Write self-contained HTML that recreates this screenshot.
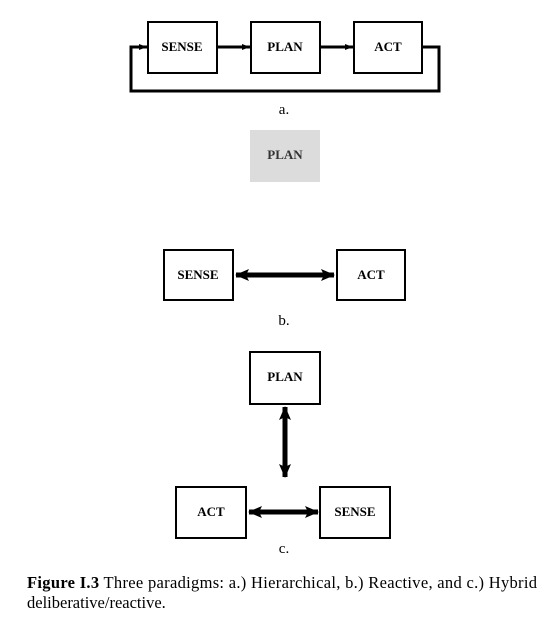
<!DOCTYPE html>
<html><head><style>html,body{margin:0;padding:0;background:#fff;}svg{display:block}</style></head>
<body>
<svg width="551" height="622" viewBox="0 0 551 622" xmlns="http://www.w3.org/2000/svg" font-family="Liberation Serif, serif">
<defs>
<marker id="sa" markerWidth="8" markerHeight="6" refX="8" refY="3" orient="auto" markerUnits="userSpaceOnUse"><path d="M0,0 L8,3 L0,6 z" fill="#000"/></marker>
<marker id="ba" markerWidth="14" markerHeight="12" refX="13" refY="6" orient="auto-start-reverse" markerUnits="userSpaceOnUse"><path d="M0,0 L14,6 L0,12 L3,6 z" fill="#000"/></marker>
</defs>
<g fill="none" stroke="#000" stroke-width="2">
<rect x="148" y="22" width="69" height="51"/>
<rect x="251" y="22" width="69" height="51"/>
<rect x="354" y="22" width="68" height="51"/>
<rect x="164" y="250" width="69" height="50"/>
<rect x="337" y="250" width="68" height="50"/>
<rect x="250" y="352" width="70" height="52"/>
<rect x="176" y="487" width="70" height="51"/>
<rect x="320" y="487" width="70" height="51"/>
</g>
<rect x="250" y="130" width="70" height="52" fill="#dcdcdc"/>
<g stroke="#000" stroke-width="3" fill="none">
<line x1="217" y1="47" x2="250" y2="47" marker-end="url(#sa)"/>
<line x1="320" y1="47" x2="353" y2="47" marker-end="url(#sa)"/>
<polyline points="422,47 439,47 439,91 131,91 131,47 147,47" marker-end="url(#sa)"/>
</g>
<g stroke="#000" stroke-width="5" fill="none">
<line x1="236" y1="275" x2="334" y2="275" marker-start="url(#ba)" marker-end="url(#ba)"/>
<line x1="285" y1="407" x2="285" y2="477" marker-start="url(#ba)" marker-end="url(#ba)"/>
<line x1="249" y1="512" x2="318" y2="512" marker-start="url(#ba)" marker-end="url(#ba)"/>
</g>
<g font-size="13" font-weight="bold" text-anchor="middle" fill="#000">
<text x="182" y="51">SENSE</text>
<text x="285" y="51">PLAN</text>
<text x="388" y="51">ACT</text>
<text x="285" y="159" fill="#333">PLAN</text>
<text x="198" y="279">SENSE</text>
<text x="371" y="279">ACT</text>
<text x="285" y="381">PLAN</text>
<text x="211" y="516">ACT</text>
<text x="355" y="516">SENSE</text>
</g>
<g font-size="15" text-anchor="middle" fill="#000">
<text x="284" y="114">a.</text>
<text x="284" y="325">b.</text>
<text x="284" y="553">c.</text>
</g>
<g font-size="16.5" fill="#000">
<text x="27" y="588" textLength="510" lengthAdjust="spacing"><tspan font-weight="bold">Figure I.3</tspan> Three paradigms: a.) Hierarchical, b.) Reactive, and c.) Hybrid</text>
<text x="27" y="608">deliberative/reactive.</text>
</g>
</svg>
</body></html>
